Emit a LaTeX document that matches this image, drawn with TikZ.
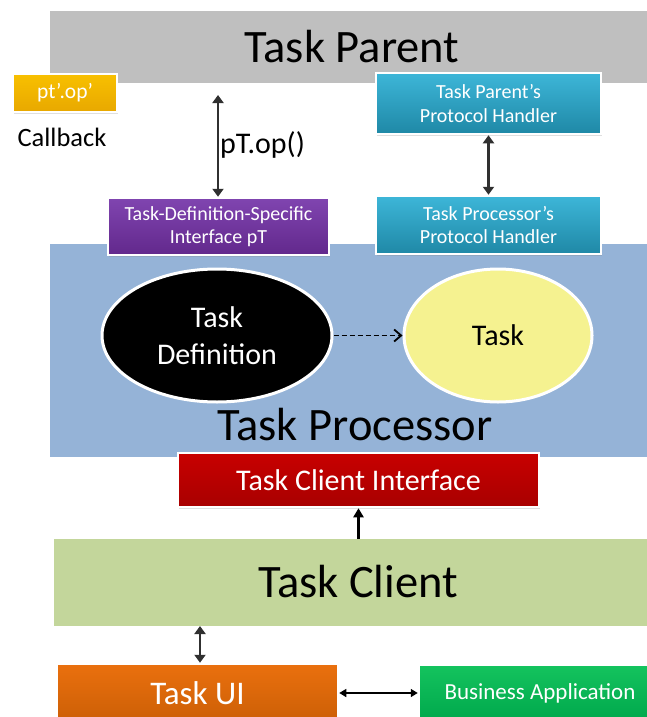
\documentclass[tikz,border=0pt]{standalone}
\usepackage{fontspec}
\setmainfont{Carlito}
\usetikzlibrary{arrows.meta,shadows,shapes.geometric}
\definecolor{parentgray}{HTML}{BFBFBF}
\definecolor{procblue}{HTML}{95B3D7}
\definecolor{clientgreen}{HTML}{C3D69B}
\definecolor{phtop}{HTML}{3DB6D8}
\definecolor{phbot}{HTML}{1F88A6}
\definecolor{purptop}{HTML}{8045B0}
\definecolor{purpbot}{HTML}{62288C}
\definecolor{goldtop}{HTML}{F8C000}
\definecolor{goldbot}{HTML}{E8A800}
\definecolor{redtop}{HTML}{C80000}
\definecolor{redbot}{HTML}{A80000}
\definecolor{orgtop}{HTML}{EA700E}
\definecolor{orgbot}{HTML}{CC5F06}
\definecolor{grntop}{HTML}{14C35E}
\definecolor{grnbot}{HTML}{00A84C}
\definecolor{taskyel}{HTML}{F5F290}
\definecolor{arrgray}{HTML}{303030}
\tikzset{
  bar/.style={rectangle, inner sep=0pt, draw=none},
  tbox/.style={rectangle, draw=white, line width=2.5pt, inner sep=0pt, text=white, align=center,
    drop shadow={opacity=0.25, shadow xshift=1pt, shadow yshift=-1.5pt}},
  bigtxt/.style={font=\fontsize{46.5}{46.5}\selectfont, text=black, inner sep=0pt},
  dbl/.style={{Triangle[width=11pt,length=8pt]}-{Triangle[width=11pt,length=8pt]}, line width=2.5pt, draw=arrgray},
}
\begin{document}
\begin{tikzpicture}[x=1pt,y=1pt]
\useasboundingbox (0,0) rectangle (647,-717);
\clip (0,0) rectangle (647,-717);
\fill[white] (0,0) rectangle (647,-717);

% Task Parent bar
\node[bar, fill=parentgray, minimum width=610, minimum height=72] (parentbar) at (355,-47) {};
\node[bigtxt] (parenttxt) at (352,-47) {Task Parent};

% Task Processor region
\node[bar, fill=procblue, minimum width=610, minimum height=213] (procbar) at (355,-350.5) {};
\node[bigtxt] (proctxt) at (355,-425) {Task Processor};

% Task Client bar
\node[bar, fill=clientgreen, minimum width=606, minimum height=87] (clientbar) at (357,-582.5) {};
\node[bigtxt] (clienttxt) at (358,-582) {Task Client};

% callback
\node[tbox, top color=goldtop, bottom color=goldbot, minimum width=104, minimum height=38,
  font=\fontsize{21.5}{22}\selectfont] (cb) at (65,-93) {pt’.op’};
\node[font=\fontsize{26.5}{26.5}\selectfont, inner sep=0pt] (cbtxt) at (62,-137) {Callback};

% protocol handlers
\node[tbox, top color=phtop, bottom color=phbot, minimum width=225, minimum height=61,
  font=\fontsize{20}{23.5}\selectfont] (tpph) at (488.5,-103.5) {Task Parent’s\\Protocol Handler};
\node[tbox, top color=phtop, bottom color=phbot, minimum width=225, minimum height=58,
  font=\fontsize{20}{23.5}\selectfont] (tprocph) at (488.5,-225) {Task Processor’s\\Protocol Handler};

% task definition specific interface
\node[tbox, top color=purptop, bottom color=purpbot, minimum width=221, minimum height=57,
  font=\fontsize{20}{23.5}\selectfont] (iface) at (218.5,-226.5) {Task-Definition-Specific\\Interface pT};

% ellipses
\node[ellipse, draw=white, line width=3pt, fill=black, minimum width=230, minimum height=133,
  inner sep=0pt, text=white, align=center, font=\fontsize{30}{37}\selectfont] (taskdef) at (217,-335.5) {Task\\Definition};
\node[ellipse, draw=white, line width=3pt, fill=taskyel, minimum width=188, minimum height=133,
  inner sep=0pt, font=\fontsize{30}{30}\selectfont] (task) at (498,-335.5) {Task};

% task client interface
\node[tbox, top color=redtop, bottom color=redbot, minimum width=361, minimum height=54,
  font=\fontsize{30}{30}\selectfont] (tci) at (358.5,-480) {Task Client Interface};

% task UI, business app
\node[tbox, top color=orgtop, bottom color=orgbot, minimum width=281, minimum height=58,
  font=\fontsize{33}{33}\selectfont] (taskui) at (197.5,-693) {Task UI};
\node[tbox, top color=grntop, bottom color=grnbot, minimum width=242, minimum height=56,
  font=\fontsize{23}{24}\selectfont] (bizapp) at (540,-693) {Business Application};

% connectors
\coordinate (ptop) at (218,-95);
\draw[dbl] (iface.north -| ptop) -- (ptop);
\node[font=\fontsize{30}{30}\selectfont, anchor=west, inner sep=0pt] (ptoplbl) at (220,-145) {pT.op()};
\draw[dbl] (tpph.south) -- (tprocph.north);
\draw[-{Straight Barb[length=7pt,width=12pt]}, line width=1.8pt, dash pattern=on 5pt off 3pt] (taskdef.east) -- (task.west);
\draw[-{Triangle[width=10pt,length=9pt]}, line width=2.5pt, black] (clientbar.north -| tci.south) -- (tci.south);
\coordinate (uitop) at (200,-626);
\draw[dbl] (uitop) -- (taskui.north -| uitop);
\draw[{Triangle[width=8pt,length=7pt]}-{Triangle[width=8pt,length=7pt]}, line width=1.5pt, black] (taskui.east) -- (bizapp.west);
\end{tikzpicture}
\end{document}
